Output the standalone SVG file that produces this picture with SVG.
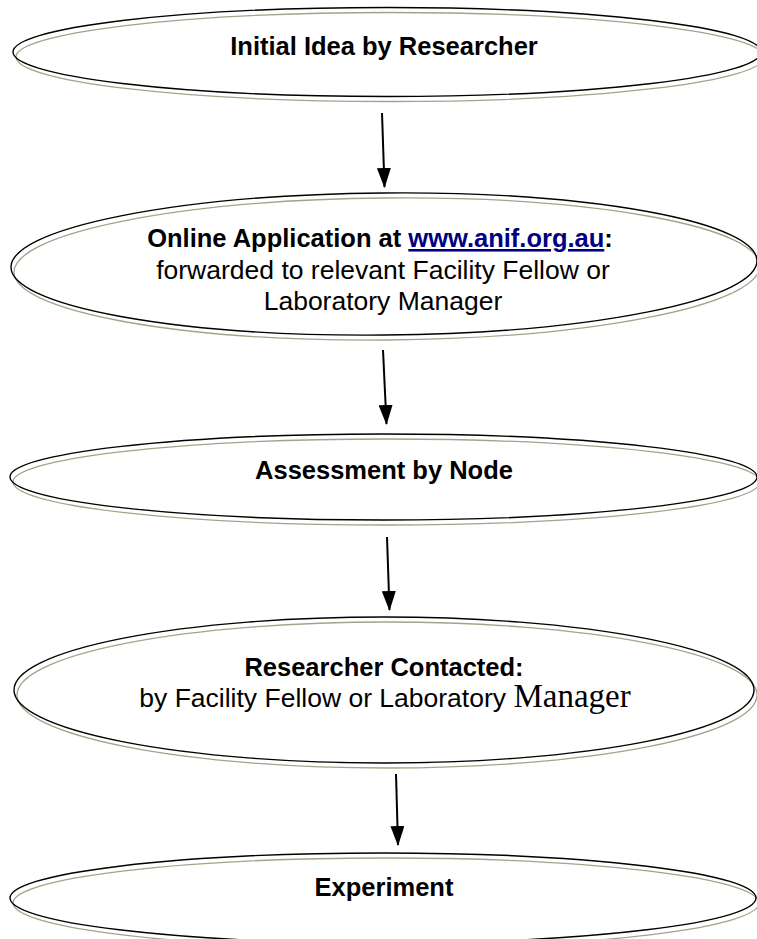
<svg xmlns="http://www.w3.org/2000/svg" width="757" height="939" viewBox="0 0 757 939">
<defs>
<style>
.sh{fill:none;stroke:#a3a38a;stroke-width:1.3}
.el{fill:none;stroke:#000;stroke-width:1.4}
.t{font-family:"Liberation Sans",Arial,sans-serif;font-size:26.5px;fill:#000;text-anchor:middle}
.b{font-weight:bold;font-size:25.5px}
.lnk{fill:#000080;text-decoration:underline}
.ser{font-family:"Liberation Serif","Times New Roman",serif;font-size:33px}
.ar{stroke:#000;stroke-width:2;fill:none}
</style>
<marker id="ah" markerUnits="userSpaceOnUse" markerWidth="20" markerHeight="14" refX="19" refY="7" orient="auto" viewBox="0 0 20 14">
<path d="M0,0 L20,7 L0,14 Z" fill="#000"/>
</marker>
</defs>
<rect width="757" height="939" fill="#fff"/>
<g id="node1">
<ellipse class="sh" cx="390" cy="57" rx="374" ry="44.5"/>
<ellipse class="el" cx="387" cy="52" rx="374" ry="44.5"/>
<text class="t b" x="384" y="55">Initial Idea by Researcher</text>
</g>
<g id="node2">
<ellipse class="sh" cx="387" cy="269" rx="373" ry="71" transform="rotate(-0.5 387 269)"/>
<ellipse class="el" cx="384" cy="264" rx="373" ry="71" transform="rotate(-0.5 384 264)"/>
<text class="t b" x="380" y="247">Online Application at <tspan class="lnk">www.anif.org.au</tspan>:</text>
<text class="t" x="383" y="279">forwarded to relevant Facility Fellow or</text>
<text class="t" x="383" y="310">Laboratory Manager</text>
</g>
<g id="node3">
<ellipse class="sh" cx="386.5" cy="482" rx="373.5" ry="43"/>
<ellipse class="el" cx="383.5" cy="477" rx="373.5" ry="43"/>
<text class="t b" x="384" y="479">Assessment by Node</text>
</g>
<g id="node4">
<ellipse class="sh" cx="387" cy="695" rx="370" ry="73"/>
<ellipse class="el" cx="384" cy="690" rx="370" ry="73"/>
<text class="t b" x="384" y="676">Researcher Contacted:</text>
<text class="t" x="385" y="707">by Facility Fellow or Laboratory <tspan class="ser">Manager</tspan></text>
</g>
<g id="node5">
<ellipse class="sh" cx="386" cy="903" rx="373" ry="45"/>
<ellipse class="el" cx="383" cy="898" rx="373" ry="45"/>
<text class="t b" x="384" y="896">Experiment</text>
</g>
<g id="connectors">
<line class="ar" x1="382" y1="113" x2="384.5" y2="187" marker-end="url(#ah)"/>
<line class="ar" x1="383" y1="350" x2="386.5" y2="424" marker-end="url(#ah)"/>
<line class="ar" x1="387" y1="537" x2="389.5" y2="610" marker-end="url(#ah)"/>
<line class="ar" x1="396" y1="774" x2="398" y2="845" marker-end="url(#ah)"/>
</g>
</svg>
